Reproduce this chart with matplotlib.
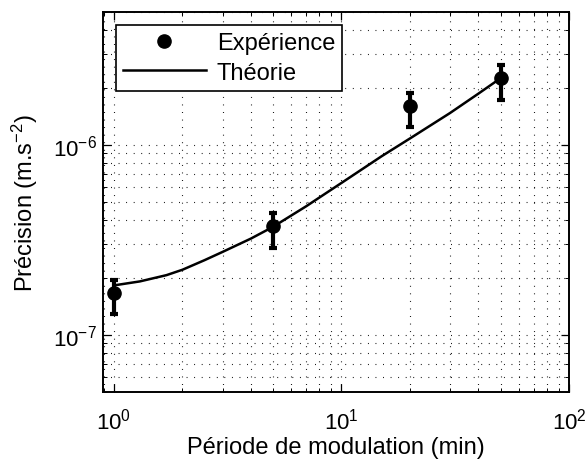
import numpy as np
import matplotlib.pyplot as plt
from matplotlib.ticker import LogLocator, LogFormatterMathtext, NullFormatter

plt.rcParams['font.family'] = ['Liberation Sans', 'DejaVu Sans']
plt.rcParams['mathtext.fontset'] = 'custom'
plt.rcParams['mathtext.rm'] = 'Liberation Sans'
plt.rcParams['mathtext.it'] = 'Liberation Sans'

# mesures
periode = [1, 5, 20, 50]
precision = [1.65e-7, 3.74e-7, 1.60e-6, 2.26e-6]
err_haut = [1.95e-7, 4.35e-7, 1.88e-6, 2.63e-6]
err_bas = [1.29e-7, 2.88e-7, 1.24e-6, 1.72e-6]

# courbe theorique
periode_th = [1, 1.3, 1.7, 2, 2.5, 3, 4, 5, 7, 10, 15, 20, 30, 40, 50]
precision_th = [1.82e-7, 1.91e-7, 2.06e-7, 2.20e-7, 2.47e-7, 2.73e-7, 3.21e-7,
                3.70e-7, 4.75e-7, 6.3e-7, 8.7e-7, 1.08e-6, 1.47e-6, 1.86e-6, 2.24e-6]

fig = plt.figure(figsize=(5.87, 4.64), dpi=100)
ax = fig.add_axes([103/587, 1-393/464, 466/587, 380/464])

yerr = [np.array(precision) - np.array(err_bas), np.array(err_haut) - np.array(precision)]
ax.errorbar(periode, precision, yerr=yerr, fmt='none', ecolor='k',
            elinewidth=3, capsize=3, capthick=3, zorder=3)
ax.plot(periode, precision, 'ko', markersize=9.5, label='Expérience', zorder=4)
ax.plot(periode_th, precision_th, 'k-', linewidth=1.8, label='Théorie', zorder=3)

ax.set_xscale('log')
ax.set_yscale('log')
ax.set_xlim(0.895, 100)
ax.set_ylim(5e-8, 5e-6)

for axis in (ax.xaxis, ax.yaxis):
    axis.set_major_locator(LogLocator(base=10))
    axis.set_minor_locator(LogLocator(base=10, subs=np.arange(2, 10)))
    axis.set_major_formatter(LogFormatterMathtext())
    axis.set_minor_formatter(NullFormatter())

ax.grid(True, which='both', linestyle=(0, (0.8, 6)), color='k', linewidth=0.8)
ax.tick_params(which='both', direction='in', top=True, right=True, labelsize=16)
ax.tick_params(which='major', length=6, width=0.9)
ax.tick_params(which='minor', length=3, width=0.7)
ax.tick_params(axis='x', which='major', pad=11)
ax.tick_params(axis='y', which='major', pad=4.5)
for s in ax.spines.values():
    s.set_linewidth(1.4)

ax.set_xlabel('Période de modulation (min)', fontsize=17)
ax.set_ylabel('Précision (m.s$^{-2}$)', fontsize=17)
ax.xaxis.set_label_coords(0.5, -0.115)
ax.yaxis.set_label_coords(-0.135, 0.5)

leg = ax.legend(loc='upper left', fontsize=17, handlelength=3.5, fancybox=False,
                edgecolor='k', framealpha=1, borderaxespad=0.55, labelspacing=0.32,
                handletextpad=0.47, borderpad=0.3)
leg.get_frame().set_linewidth(1.2)

fig.savefig('out.png', dpi=100)
